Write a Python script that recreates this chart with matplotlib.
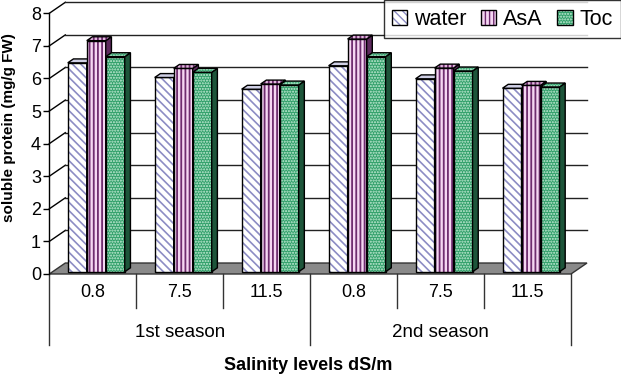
import matplotlib.pyplot as plt
from matplotlib.patches import Polygon, Patch
import numpy as np

plt.rcParams['font.family'] = ['Liberation Sans', 'DejaVu Sans']

# data
levels = ['0.8', '7.5', '11.5', '0.8', '7.5', '11.5']
seasons = ['1st season', '2nd season']
water = [6.41, 5.96, 5.60, 6.32, 5.92, 5.63]
asa = [7.09, 6.24, 5.76, 7.14, 6.25, 5.72]
toc = [6.60, 6.12, 5.73, 6.60, 6.16, 5.67]

series = [
    # name, values, front colour, hatch, hatch colour, hatch lw, side colour, top colour
    ('water', water, 'white', '\\\\\\\\', '#8c8cc4', 1.2, '#c4c4dc', '#d0d0e6'),
    ('AsA', asa, '#f5d6f2', '||||', '#6e2c6e', 1.3, '#5e2a5e', '#e0b8dc'),
    ('Toc', toc, '#31a06a', '......', '#c8ecd8', 1.0, '#1d553a', '#3aa873'),
]

# 3d look (data units)
wall_dx, wall_dy = 0.184, 0.337
bar_w = 0.2185
bar_dx, bar_dy = 0.0655, 0.12
base_y = 0.07
shift = 0.04

fig = plt.figure(figsize=(6.21, 3.76), dpi=100)
ax = fig.add_axes([49.3 / 621, 1 - 274 / 376, 521.7 / 621, 260.7 / 376])
ax.set_xlim(0, 6)
ax.set_ylim(0, 8)
ax.patch.set_visible(False)
for s in ['top', 'right', 'bottom']:
    ax.spines[s].set_visible(False)
ax.spines['left'].set_linewidth(1.0)

ax.set_yticks(range(9))
ax.tick_params(axis='y', length=4, width=1, labelsize=13, pad=2)
ax.set_xticks(np.arange(6) + 0.5)
ax.set_xticklabels(levels)
ax.tick_params(axis='x', length=0, labelsize=13, pad=7)

# back wall grid + diagonals
for v in range(1, 9):
    ax.plot([0, wall_dx], [v, v + wall_dy], color='black', lw=1, zorder=1, clip_on=False)
    ax.plot([wall_dx, 6 + wall_dx], [v + wall_dy, v + wall_dy], color='#222222', lw=1,
            zorder=1, clip_on=False)

# floor
ax.add_patch(Polygon([[0, 0], [6, 0], [6 + wall_dx, wall_dy], [wall_dx, wall_dy]],
                     closed=True, facecolor='#8a8a8a', edgecolor='#333333', lw=1,
                     zorder=2, clip_on=False))


def add_poly(pts, face, hatch, hcol, hlw, z):
    ax.add_patch(Polygon(pts, closed=True, facecolor=face, edgecolor='none', lw=0,
                         zorder=z, clip_on=False))
    if hatch:
        with plt.rc_context({'hatch.linewidth': hlw}):
            p = Polygon(pts, closed=True, fill=False, edgecolor=hcol, lw=0, hatch=hatch,
                        zorder=z, clip_on=False)
        if hasattr(p, 'set_hatch_linewidth'):
            p.set_hatch_linewidth(hlw)
        ax.add_patch(p)
    ax.add_patch(Polygon(pts, closed=True, fill=False, edgecolor='black', lw=1,
                         zorder=z, clip_on=False))


z = 3
for i in range(6):
    left0 = i + 0.5 + shift - 1.5 * bar_w
    for k, (name, vals, face, hatch, hcol, hlw, side, top) in enumerate(series):
        x0 = left0 + k * bar_w
        x1 = x0 + bar_w
        y0 = base_y
        y1 = base_y + vals[i]
        add_poly([[x0, y0], [x1, y0], [x1, y1], [x0, y1]], face, hatch, hcol, hlw, z)
        add_poly([[x1, y0], [x1 + bar_dx, y0 + bar_dy], [x1 + bar_dx, y1 + bar_dy], [x1, y1]],
                 side, None, None, hlw, z)
        add_poly([[x0, y1], [x1, y1], [x1 + bar_dx, y1 + bar_dy], [x0 + bar_dx, y1 + bar_dy]],
                 top, hatch if name != 'water' else None, hcol, hlw, z)
        z += 1

# category table lines
for x in [1, 2, 4, 5]:
    ax.plot([x, x], [0, -1.04], color='#333333', lw=1, clip_on=False)
for x in [0, 3, 6]:
    ax.plot([x, x], [0, -2.18], color='#333333', lw=1, clip_on=False)
for j, s in enumerate(seasons):
    ax.text(1.5 + 3 * j, -1.78, s, ha='center', va='center', fontsize=13.5)

fig.text(0.497, 1 - 366 / 376, 'Salinity levels dS/m', ha='center', va='center',
         fontsize=13, fontweight='bold')
fig.text(9 / 621, 1 - 128 / 376, 'soluble protein (mg/g FW)', rotation=90,
         ha='center', va='center', fontsize=11, fontweight='bold')

# legend
handles = []
for name, vals, face, hatch, hcol, hlw, side, top in series:
    with plt.rc_context({'hatch.linewidth': hlw}):
        hp = Patch(fill=False, edgecolor=hcol, lw=0, hatch=hatch)
    handles.append((Patch(facecolor=face, edgecolor='none'), hp,
                    Patch(fill=False, edgecolor='black', lw=1)))
leg = fig.legend(handles, [s[0] for s in series], loc='upper right',
                 bbox_to_anchor=(1.0, 1.0), ncol=3, fontsize=15.5, frameon=True,
                 fancybox=False, edgecolor='black', borderaxespad=0,
                 handlelength=0.7, handleheight=0.7, handletextpad=0.3,
                 columnspacing=0.7, borderpad=0.4)
leg.get_frame().set_linewidth(1)

fig.savefig('out.png', dpi=100)
